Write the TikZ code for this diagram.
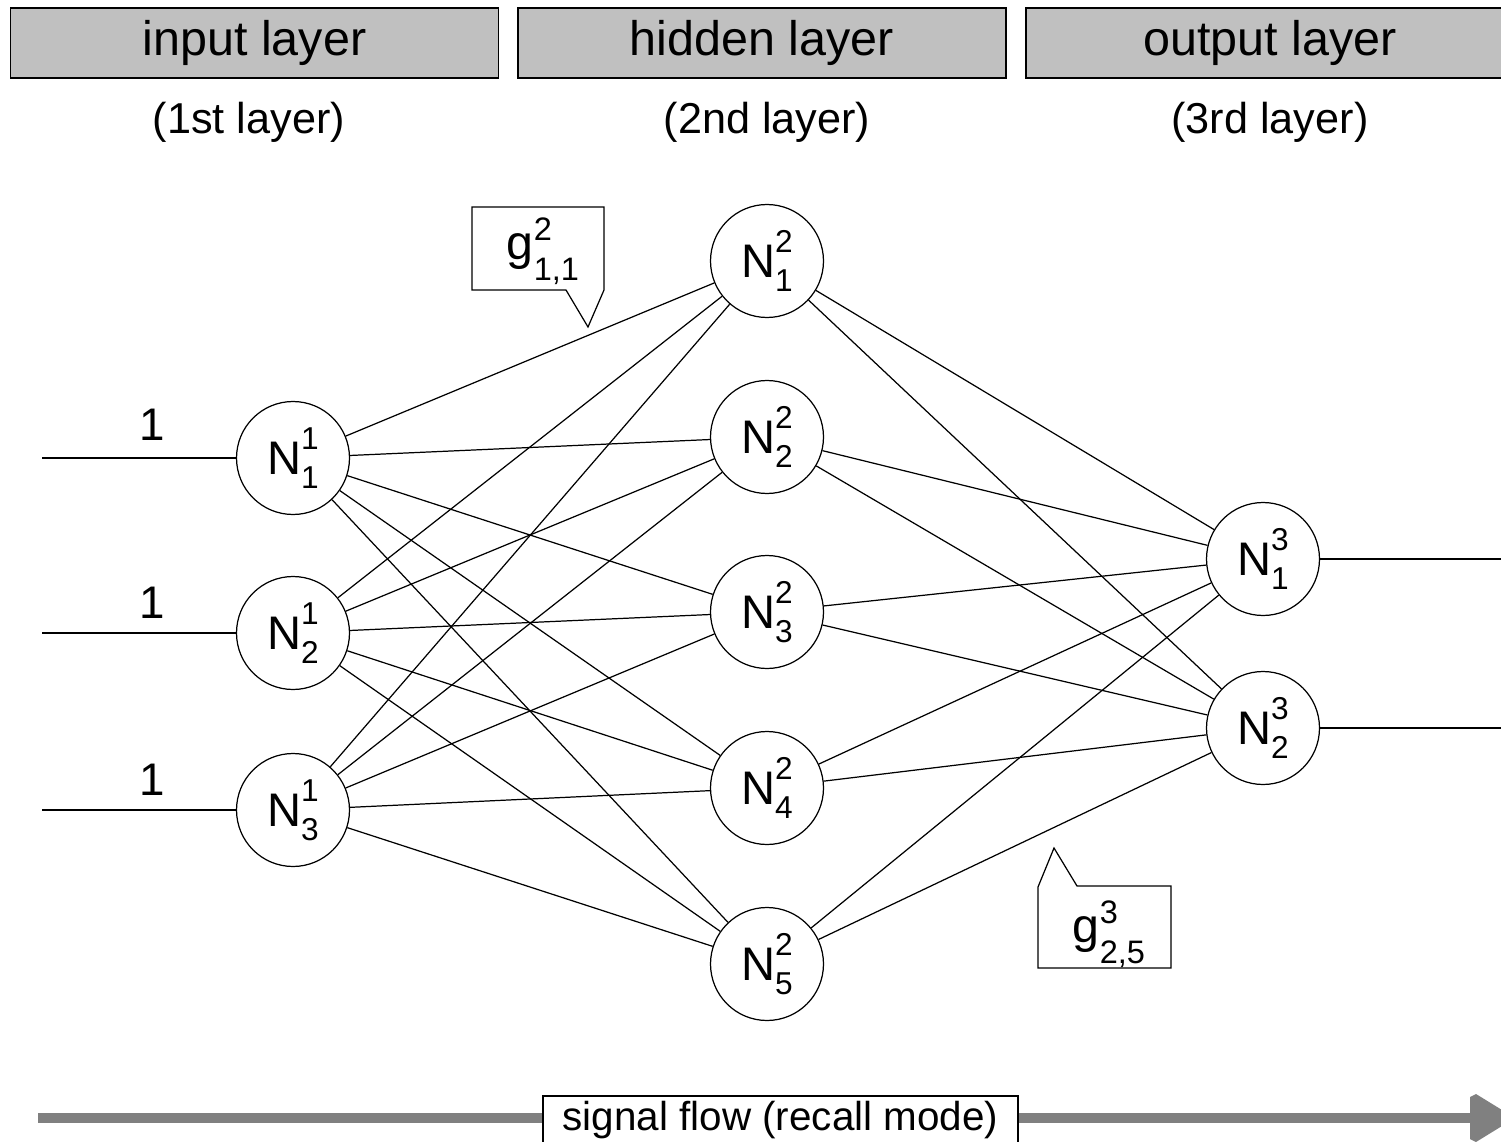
\documentclass[tikz,border=0pt]{standalone}
\usepackage{fontspec}
\setmainfont{Liberation Sans}
\newcommand{\FSz}[1]{\fontsize{#1}{#1}\selectfont}
\newcommand{\Nlab}[2]{N\rlap{\raisebox{0.53em}{\FSz{18pt}#1}}\raisebox{-0.3em}{\FSz{18pt}#2}}
\newcommand{\Glab}[2]{g\rlap{\raisebox{0.4em}{\FSz{18.5pt}#1}}\raisebox{-0.42em}{\FSz{18.5pt}#2}}
\definecolor{headgray}{HTML}{C0C0C0}
\definecolor{flowgray}{HTML}{808080}
\begin{document}
\begin{tikzpicture}[x=0.02cm,y=-0.02cm,
  neuron/.style={circle,draw,line width=0.7pt,minimum size=2.26cm,inner sep=0pt,fill=white,font=\FSz{26.8pt}},
  conn/.style={line width=0.7pt},
  header/.style={draw,line width=0.7pt,fill=headgray,minimum width=9.76cm,minimum height=1.4cm,inner sep=0pt,font=\FSz{27.6pt},text height=20pt,text depth=5.4pt},
  subtitle/.style={inner sep=0pt,font=\FSz{24.6pt}},
  onelabel/.style={inner sep=0pt,font=\FSz{26pt}},
  callout/.style={draw,line width=0.7pt,fill=white},
  glabel/.style={inner sep=0pt,font=\FSz{27.5pt}},
  flowbox/.style={draw,line width=0.7pt,fill=white,minimum width=9.5cm,minimum height=0.96cm,inner sep=0pt,font=\FSz{23pt},text height=16.8pt,text depth=4.4pt}
]
\clip (0,0) rectangle (1501,1142);
\useasboundingbox (0,0) rectangle (1501,1142);

% headers
\node[header] (hin)  at (254.5,43) {input layer};
\node[header] (hhid) at (762,43)   {hidden layer};
\node[header] (hout) at (1270,43)  {output layer};
\node[subtitle] (sin)  at (249,122)  {(1st layer)};
\node[subtitle] (shid) at (767,122)  {(2nd layer)};
\node[subtitle] (sout) at (1270,122) {(3rd layer)};

% neurons
\node[neuron] (i1) at (293,458) {\Nlab{1}{1}};
\node[neuron] (i2) at (293,633) {\Nlab{1}{2}};
\node[neuron] (i3) at (293,810) {\Nlab{1}{3}};
\node[neuron] (h1) at (767,261) {\Nlab{2}{1}};
\node[neuron] (h2) at (767,437) {\Nlab{2}{2}};
\node[neuron] (h3) at (767,612) {\Nlab{2}{3}};
\node[neuron] (h4) at (767,788) {\Nlab{2}{4}};
\node[neuron] (h5) at (767,964) {\Nlab{2}{5}};
\node[neuron] (o1) at (1263,559) {\Nlab{3}{1}};
\node[neuron] (o2) at (1263,728) {\Nlab{3}{2}};

% connections
\foreach \i in {1,2,3}
  \foreach \j in {1,...,5}
    \draw[conn] (i\i) -- (h\j);
\foreach \j in {1,...,5}
  \foreach \k in {1,2}
    \draw[conn] (h\j) -- (o\k);

% inputs
\coordinate (in1) at (42,458);
\coordinate (in2) at (42,633);
\coordinate (in3) at (42,810);
\draw[conn] (in1) -- (i1);
\draw[conn] (in2) -- (i2);
\draw[conn] (in3) -- (i3);
\node[onelabel] (l1) at (152,425) {1};
\node[onelabel] (l2) at (152,603) {1};
\node[onelabel] (l3) at (152,780) {1};

% outputs
\coordinate (out1) at (1501,559);
\coordinate (out2) at (1501,728);
\draw[conn] (o1) -- (out1);
\draw[conn] (o2) -- (out2);

% callouts
\draw[callout] (472,207) -- (604,207) -- (604,290) -- (588,327) -- (566,290) -- (472,290) -- cycle;
\node[glabel] (g1) at (543,251) {\Glab{2}{1,1}};
\draw[callout] (1038,968) -- (1171,968) -- (1171,886) -- (1077,886) -- (1054,848) -- (1038,887) -- cycle;
\node[glabel] (g2) at (1109,934) {\Glab{3}{2,5}};

% signal flow
\coordinate (sfA) at (38,1118);
\coordinate (sfB) at (1472,1118);
\draw[flowgray,line width=5.7pt] (sfA) -- (sfB);
\fill[flowgray] (1470,1097) -- (1476,1094) -- (1515,1118) -- (1476,1142) -- (1470,1139) -- cycle;
\node[flowbox] (sf) at (780.5,1120) {signal flow (recall mode)};
\end{tikzpicture}
\end{document}
